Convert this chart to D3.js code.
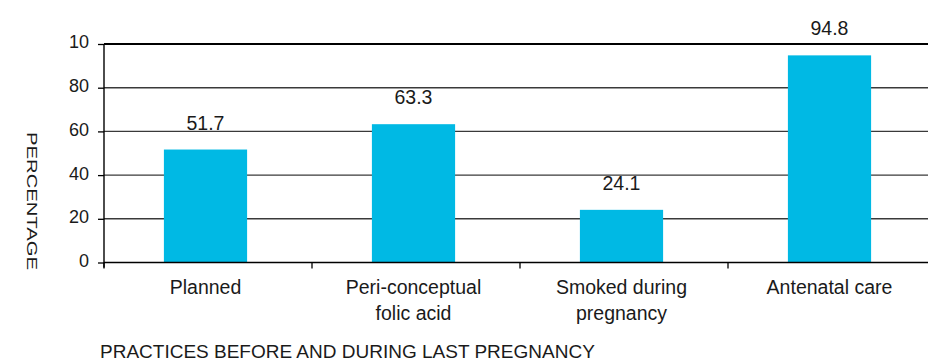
<!DOCTYPE html>
<html>
<head>
<meta charset="utf-8">
<script src="https://cdn.jsdelivr.net/npm/d3@7/dist/d3.min.js"></script>
<style>
  html, body { margin: 0; padding: 0; background: #fff; }
  svg { display: block; font-family: "Liberation Sans", Arial, sans-serif; }
</style>
</head>
<body>
<svg id="chart" width="928" height="363"></svg>
<script>
// Practices before and during last pregnancy (percent)
const categories = [
  ["Planned"],
  ["Peri-conceptual", "folic acid"],
  ["Smoked during", "pregnancy"],
  ["Antenatal care"]
];
const values = [51.7, 63.3, 24.1, 94.8];
const yTicks = [0, 20, 40, 60, 80, 100];
const yTickLabels = ["0", "20", "40", "60", "80", "10"];
const yTitle = "PERCENTAGE";
const xTitle = "PRACTICES BEFORE AND DURING LAST PREGNANCY";

const plotLeft = 104, plotTop = 44, plotBottom = 262.5, plotRight = 928;

const svg = d3.select("#chart");

const keys = categories.map(c => c.join(" "));
const x = d3.scaleBand()
  .domain(keys)
  .range([plotLeft, plotLeft + 4 * 208])
  .paddingInner(0.6)
  .paddingOuter(0.3);

const y = d3.scaleLinear().domain([0, 100]).range([plotBottom, plotTop]);

// horizontal gridlines
svg.append("g")
  .selectAll("line")
  .data(yTicks.filter(t => t > 0))
  .join("line")
  .attr("x1", plotLeft).attr("x2", plotRight)
  .attr("y1", d => y(d)).attr("y2", d => y(d))
  .attr("stroke", d => d === 100 ? "#000" : "#3a3a3a")
  .attr("stroke-width", d => d === 100 ? 2.2 : 1.4);

// bars
svg.append("g")
  .selectAll("rect")
  .data(values)
  .join("rect")
  .attr("x", (d, i) => x(keys[i]) - 2.5)
  .attr("y", d => y(d))
  .attr("width", x.bandwidth())
  .attr("height", d => y(0) - y(d))
  .attr("fill", "#00B9E4");

// value labels
svg.append("g")
  .selectAll("text")
  .data(values)
  .join("text")
  .attr("x", (d, i) => x(keys[i]) - 2.5 + x.bandwidth() / 2)
  .attr("y", d => y(d) - 20)
  .attr("text-anchor", "middle")
  .attr("font-size", 19.5)
  .attr("fill", "#1a1a1a")
  .text(d => d.toFixed(1));

// y axis
const yAxis = d3.axisLeft(y)
  .tickValues(yTicks)
  .tickSize(6)
  .tickPadding(9)
  .tickFormat((d, i) => yTickLabels[i]);
const gy = svg.append("g").attr("transform", `translate(${plotLeft},0)`).call(yAxis);
gy.select(".domain").attr("stroke", "#000").attr("stroke-width", 1.4)
  .attr("d", `M0,${plotTop}V${plotBottom + 5}`);
gy.selectAll(".tick line").attr("stroke", "#000").attr("stroke-width", 1.3);
gy.selectAll(".tick text")
  .attr("font-size", 18)
  .attr("font-family", "Liberation Sans, Arial, sans-serif")
  .attr("fill", "#1a1a1a")
  .attr("dy", "0.22em");

// x axis
const xAxis = d3.axisBottom(x).tickSize(0).tickFormat(() => "");
const gx = svg.append("g").attr("transform", `translate(0,${plotBottom})`).call(xAxis);
gx.select(".domain").attr("stroke", "#000").attr("stroke-width", 1.6)
  .attr("d", `M${plotLeft},0H${plotRight}`);

// category boundary ticks
const bounds = keys.map(k => x(k) - x.step() * x.paddingOuter());
gx.append("g").selectAll("line")
  .data(bounds)
  .join("line")
  .attr("x1", d => d).attr("x2", d => d)
  .attr("y1", 0).attr("y2", 6)
  .attr("stroke", "#000").attr("stroke-width", 1.3);

// category labels
const lbl = svg.append("g")
  .selectAll("text")
  .data(categories)
  .join("text")
  .attr("x", (d, i) => x(keys[i]) - 2.5 + x.bandwidth() / 2)
  .attr("y", 294)
  .attr("text-anchor", "middle")
  .attr("font-size", 19.5)
  .attr("fill", "#1a1a1a");
lbl.selectAll("tspan")
  .data(d => d)
  .join("tspan")
  .attr("x", function () { return this.parentNode.getAttribute("x"); })
  .attr("dy", (d, i) => i === 0 ? 0 : 26)
  .text(d => d);

// axis titles
svg.append("text")
  .attr("transform", `translate(27,201) rotate(90)`)
  .attr("text-anchor", "middle")
  .attr("font-size", 15.5)
  .attr("textLength", 138)
  .attr("lengthAdjust", "spacingAndGlyphs")
  .attr("fill", "#1a1a1a")
  .text(yTitle);

svg.append("text")
  .attr("x", 100)
  .attr("y", 358)
  .attr("font-size", 19)
  .attr("fill", "#1a1a1a")
  .text(xTitle);
</script>
</body>
</html>
